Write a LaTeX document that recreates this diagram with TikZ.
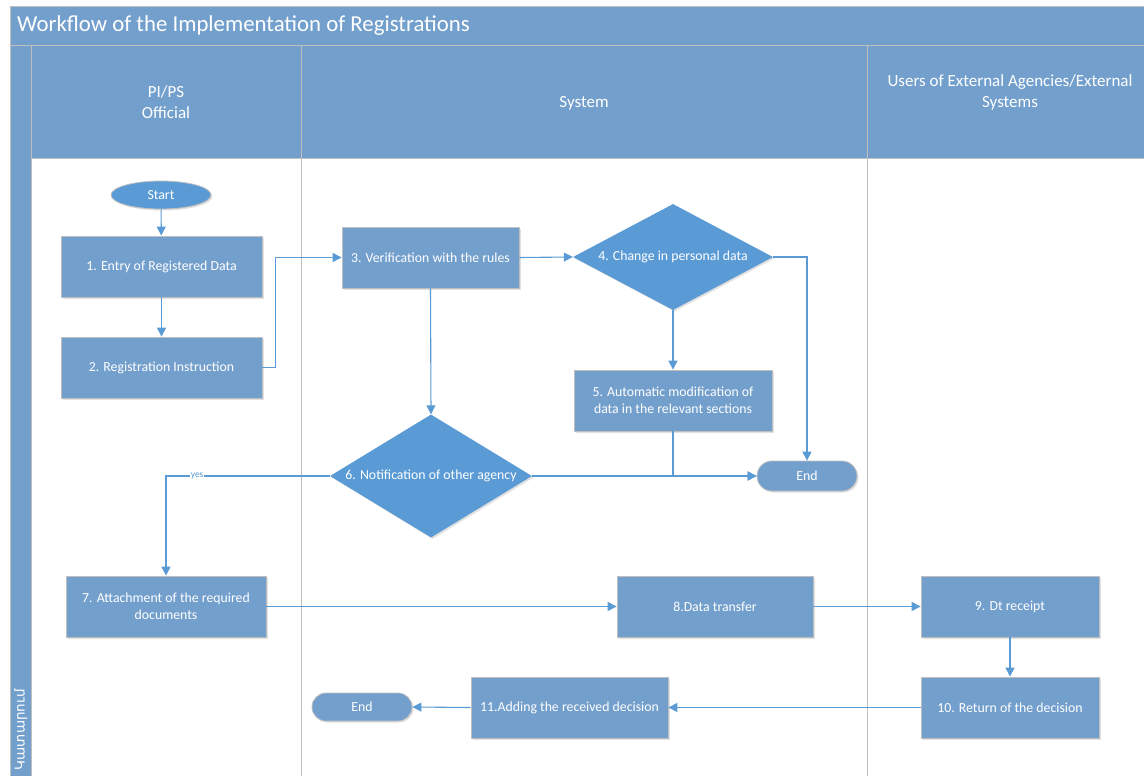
\documentclass[tikz,border=0pt]{standalone}
\usepackage{fontspec}
\setmainfont{Carlito}
\newfontfamily\armfont{DejaVu Sans}
\usetikzlibrary{shapes.geometric,shapes.misc,arrows.meta,shadows}
\definecolor{boxfill}{HTML}{739FCD}
\definecolor{diafill}{HTML}{5B9BD5}
\definecolor{linecol}{HTML}{5B9BD5}
\definecolor{gridcol}{HTML}{BFBFBF}
\definecolor{hdrfill}{HTML}{739FCD}
\begin{document}
\begin{tikzpicture}[x=1pt,y=-1pt,
  shad/.style={drop shadow={shadow xshift=1.5pt,shadow yshift=-1.5pt,fill=black,opacity=0.12}},
  box/.style={rectangle,fill=boxfill,draw=gridcol,line width=0.8pt,text=white,inner sep=0pt,align=center,
     font=\fontsize{13.8}{17}\selectfont,shad},
  dia/.style={diamond,fill=diafill,draw=none,text=white,inner sep=0pt,font=\fontsize{13.8}{17}\selectfont,shad},
  term/.style={rounded rectangle,fill=boxfill,draw=gridcol,line width=0.8pt,text=white,inner sep=0pt,
     minimum width=100pt,minimum height=30pt,font=\fontsize{13.8}{14}\selectfont,shad},
  arr/.style={draw=linecol,line width=1.1pt,-{Triangle[length=9pt,width=9pt]}},
  lane/.style={draw=gridcol,line width=1pt},
  hdr/.style={text=white,align=center,font=\fontsize{17}{21}\selectfont}
]
\useasboundingbox (0,0) rectangle (1144,776);
\clip (0,0) rectangle (1144,776);
\fill[white] (0,0) rectangle (1144,776);
% title bar, strip, headers
\fill[hdrfill] (10,7) rectangle (1150,46);
\fill[hdrfill] (10,46) rectangle (31,780);
\fill[hdrfill] (31,46) rectangle (1150,158);
\draw[lane] (10,780) -- (10,7) -- (1150,7);
\draw[lane] (10,46) -- (1150,46);
\draw[lane] (31,46) -- (31,780);
\draw[lane] (31,158) -- (1150,158);
\draw[lane] (301,46) -- (301,780);
\draw[lane] (867,46) -- (867,780);
\node[anchor=west,text=white,font=\fontsize{22.8}{24}\selectfont,inner sep=0pt] (title) at (17,26) {Workflow of the Implementation of Registrations};
\node[hdr] (h1) at (166,102) {PI/PS\\Official};
\node[hdr] (h2) at (584,103) {System};
\node[hdr] (h3) at (1010,92) {Users of External Agencies/External\\Systems};
\node[rotate=90,anchor=east,text=white,inner sep=0pt,font=\armfont\fontsize{13.5}{14}\selectfont] (phase) at (21,689) {Կատարում};
% nodes
\node[ellipse,fill=diafill,draw=gridcol,line width=0.8pt,text=white,inner sep=0pt,minimum width=100pt,minimum height=28pt,
  font=\fontsize{13.8}{14}\selectfont,shad] (start) at (161,195) {Start};
\node[box,minimum width=201pt,minimum height=61pt] (b1) at (161.5,266.5) {1. Entry of Registered Data};
\node[box,minimum width=201pt,minimum height=61pt] (b2) at (161.5,367.5) {2. Registration Instruction};
\node[box,minimum width=177pt,minimum height=61pt] (b3) at (430.5,257.5) {3. Verification with the rules};
\node[dia,minimum width=200pt,minimum height=106pt] (d4) at (673,257) {\makebox[0pt]{4. Change in personal data}};
\node[box,minimum width=198pt,minimum height=61pt] (b5) at (673,400.5) {5. Automatic modification of\\data in the relevant sections};
\node[term] (e1) at (807,476) {End};
\node[dia,minimum width=202pt,minimum height=123pt] (d6) at (431,476) {\makebox[0pt]{6. Notification of other agency}};
\node[box,minimum width=200pt,minimum height=61pt] (b7) at (166,606.5) {7. Attachment of the required\\documents};
\node[box,minimum width=196pt,minimum height=61pt] (b8) at (715,606.5) {8.Data transfer};
\node[box,minimum width=178pt,minimum height=61pt] (b9) at (1010,606.5) {9. Dt receipt};
\node[box,minimum width=178pt,minimum height=61pt] (b10) at (1010,707.5) {10. Return of the decision};
\node[box,minimum width=197pt,minimum height=61pt] (b11) at (569.5,707.5) {11.Adding the received decision};
\node[term,minimum height=28pt] (e2) at (362,707) {End};
% connectors
\draw[arr] (start) -- (b1);
\draw[arr] (b1) -- (b2);
\draw[arr] (b2.east) -- ++(13,0) |- (b3.west);
\draw[arr] (b3.east) -- (d4.west);
\draw[arr] (d4.east) -| (e1.north);
\draw[arr] (d4.south) -- (b5.north);
\draw[arr] (b5.south) |- (e1.west);
\draw[arr] (d6.east) -- (e1.west);
\draw[arr] (b3.south) -- (d6.north);
\draw[arr] (d6.west) -| (b7.north) node[pos=0.405,fill=white,inner sep=1pt,text=linecol,font=\fontsize{9.5}{10}\selectfont] (yes) {yes};
\draw[arr] (b7.east) -- (b8.west);
\draw[arr] (b8.east) -- (b9.west);
\draw[arr] (b9.south) -- (b10.north);
\draw[arr] (b10.west) -- (b11.east);
\draw[arr] (b11.west) -- (e2.east);
\end{tikzpicture}
\end{document}
